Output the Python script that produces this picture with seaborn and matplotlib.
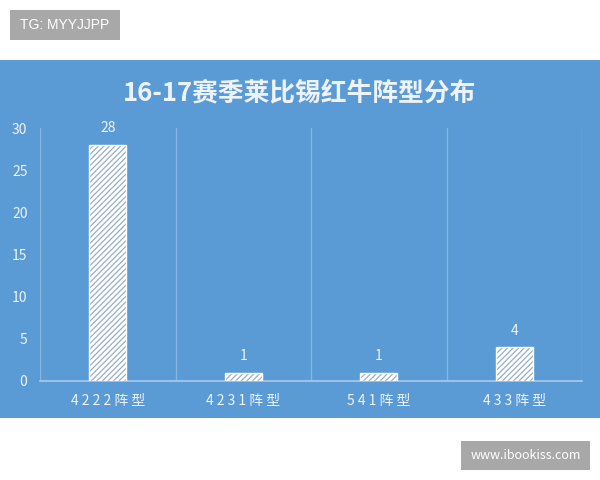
import matplotlib
matplotlib.use("Agg")
import matplotlib.pyplot as plt
from matplotlib.patches import Rectangle
import seaborn as sns
import pandas as pd

categories = ["4222阵型", "4231阵型", "541阵型", "433阵型"]
counts = [28, 1, 1, 4]
yticks = [0, 5, 10, 15, 20, 25, 30]
title = "16-17赛季莱比锡红牛阵型分布"
wm_top = "TG: MYYJJPP"
wm_bottom = "www.ibookiss.com"

sns.set_theme(style="white")
plt.rcParams["font.family"] = ["Noto Sans CJK SC", "DejaVu Sans"]
plt.rcParams["hatch.linewidth"] = 0.9

BLUE = "#5B9BD5"
TXT = "#EEF3FA"
GRID = "#86B6E4"
HATCH = "#98AFC6"

fig = plt.figure(figsize=(6, 4.8), dpi=100, facecolor="white")
W, H = 600, 480

def fx(x):
    return x / W

def fy(y):
    return 1 - y / H

# blue panel
fig.patches.append(Rectangle((0, fy(418)), 1, fy(60) - fy(418), transform=fig.transFigure,
                             facecolor=BLUE, edgecolor="none", zorder=-5))

ax = fig.add_axes([fx(40), fy(381), fx(582) - fx(40), fy(128) - fy(381)])
ax.set_facecolor("none")
ax.set_zorder(2)

df = pd.DataFrame({"cat": categories, "n": counts})
sns.barplot(data=df, x="cat", y="n", ax=ax, color="white", width=0.27,
            edgecolor=HATCH, linewidth=0, saturation=1, zorder=3)
for p in list(ax.patches):
    p.set_hatch("//////")
    p.set_facecolor("white")
    p.set_edgecolor(HATCH)
    p.set_linewidth(0)
    ax.add_patch(Rectangle(p.get_xy(), p.get_width(), p.get_height(), facecolor="none",
                           edgecolor="white", linewidth=1.0, zorder=4))

for i, v in enumerate(counts):
    ax.annotate(str(v), (i, v), xytext=(0, 7), textcoords="offset points",
                ha="center", va="bottom", color=TXT, fontsize=10)

ax.set_xlim(-0.5, 3.5)
ax.set_ylim(0, 30)
ax.set_yticks(yticks)
ax.set_xticks(range(len(categories)))
ax.set_xticklabels([" ".join(list(c)) for c in categories])
ax.set_xticks([-0.5, 0.5, 1.5, 2.5, 3.5], minor=True)
ax.grid(False)
ax.grid(True, which="minor", axis="x", color=GRID, linewidth=0.9)
ax.tick_params(axis="both", which="both", length=0)
ax.tick_params(axis="y", labelsize=10, labelcolor=TXT, pad=9)
ax.tick_params(axis="x", labelsize=10, labelcolor=TXT, pad=9)
ax.set_xlabel("")
ax.set_ylabel("")
for s in ["top", "right", "left"]:
    ax.spines[s].set_visible(False)
ax.spines["bottom"].set_color("#A9CBEC")
ax.spines["bottom"].set_linewidth(1.2)

fig.text(0.5, fy(93), title, ha="center", va="center", fontsize=18.5,
         fontweight="bold", color=TXT)

# watermarks
fig.patches.append(Rectangle((fx(10), fy(40)), fx(120) - fx(10), fy(10) - fy(40),
                             transform=fig.transFigure, facecolor="#A8A8A8", edgecolor="none"))
fig.text(fx(65), fy(25), wm_top, ha="center", va="center", fontsize=10, color="white",
         family=["Liberation Sans", "DejaVu Sans"])
fig.patches.append(Rectangle((fx(461), fy(470)), fx(590) - fx(461), fy(441) - fy(470),
                             transform=fig.transFigure, facecolor="#A8A8A8", edgecolor="none"))
fig.text(fx(525.5), fy(455.5), wm_bottom, ha="center", va="center", fontsize=9, color="white")

fig.savefig("out.png", dpi=100, facecolor="white")
